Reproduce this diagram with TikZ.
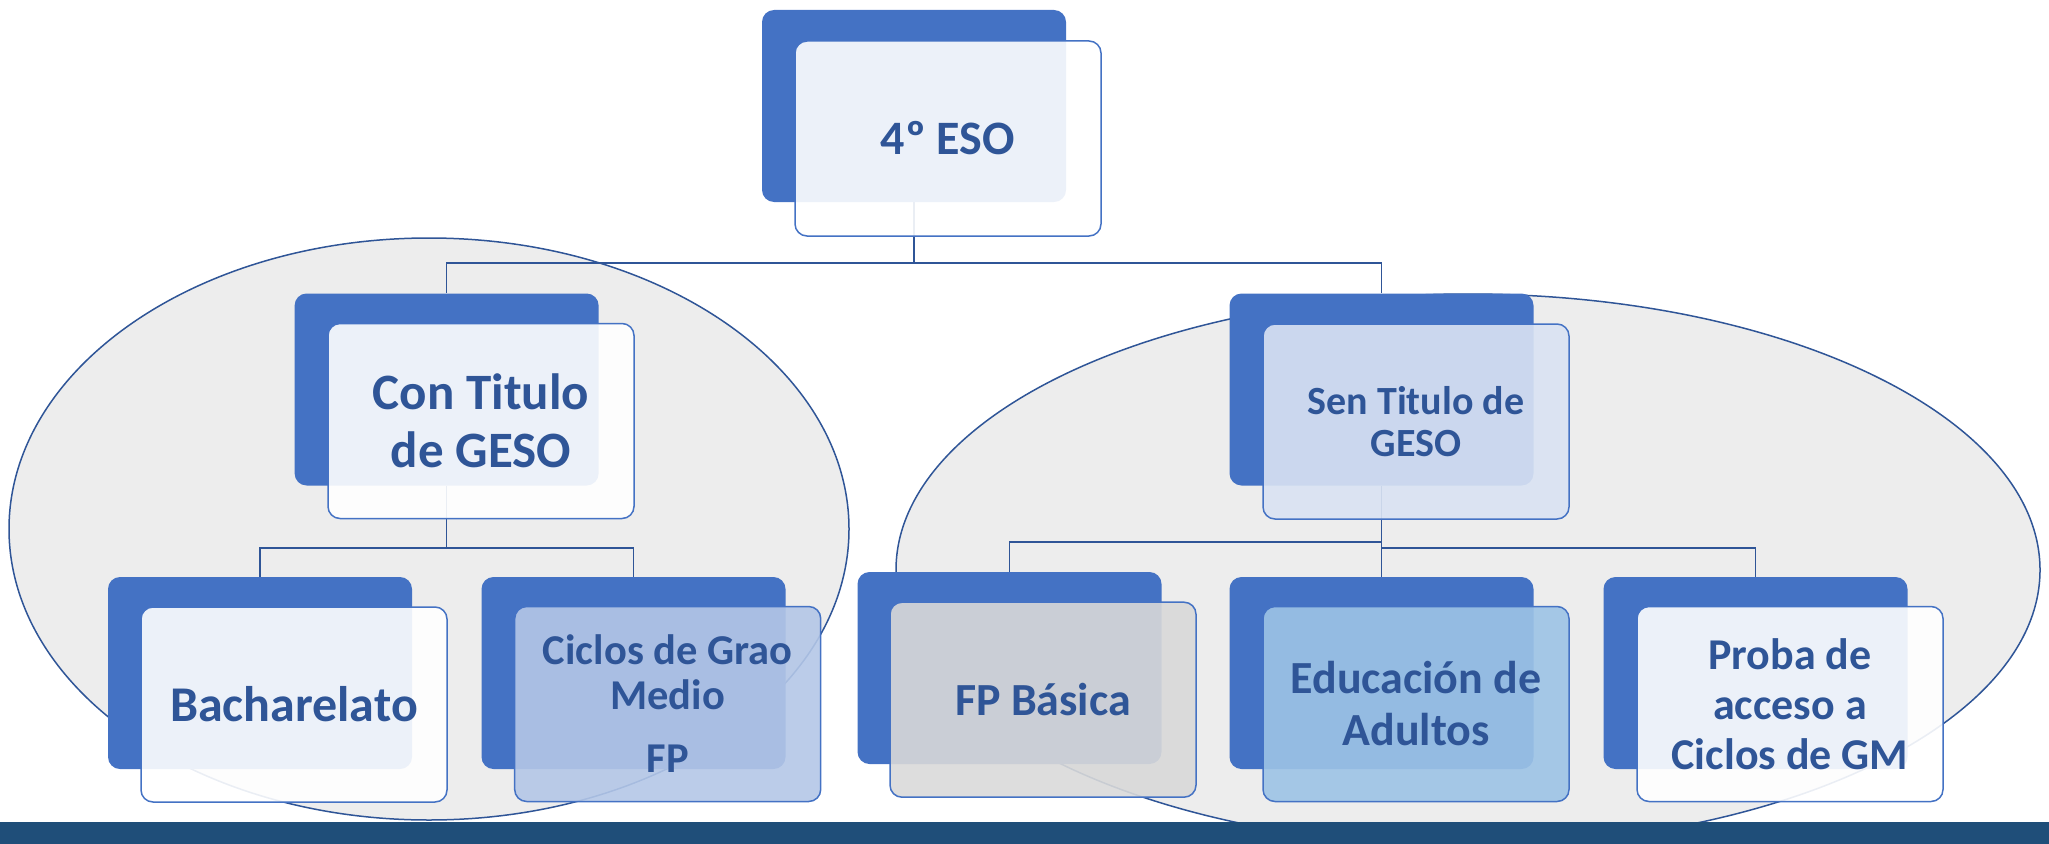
\documentclass[tikz,border=0pt]{standalone}
\usepackage{fontspec}
\setmainfont{Carlito}
\usepackage{tikz}
\usetikzlibrary{backgrounds}

\definecolor{boxblue}{HTML}{4472C4}
\definecolor{txtblue}{HTML}{2F5597}
\definecolor{groupgray}{HTML}{EDEDED}
\definecolor{barblue}{HTML}{1F4E79}
\definecolor{paleblue}{HTML}{DAE3F3}
\definecolor{midblue}{HTML}{B4C7E7}
\definecolor{skyblue}{HTML}{9DC3E6}
\definecolor{greybox}{HTML}{D9D9D9}

\begin{document}
\begin{tikzpicture}[x=1pt,y=-1pt,
    back/.style={shape=rectangle,rounded corners=12pt,fill=boxblue,minimum width=304pt,minimum height=192pt,inner sep=0pt},
    front/.style={shape=rectangle,rounded corners=12pt,draw=boxblue,line width=1.5pt,fill=#1,fill opacity=0.9,text opacity=1,minimum width=306pt,minimum height=195pt,inner sep=0pt,align=center,text=txtblue},
    link/.style={draw=txtblue,line width=1.6pt},
    group/.style={draw=txtblue,line width=1.5pt,fill=groupgray}]
        \useasboundingbox (0,0) rectangle (2049,843);

        % top level
        \node[back] (esoB) at (914,106) {};
        \node[front=white,font=\bfseries\fontsize{48}{54}\selectfont] (esoF) at (948,138.5) {4º ESO};

        % second level
        \node[back] (conB) at (446.6,389.5) {};
        \node[front=white,font=\bfseries\fontsize{51}{58}\selectfont] (conF) at (481,421) {Con Titulo\\de GESO};
        \node[back] (senB) at (1381.5,389.5) {};
        \node[front=paleblue,font=\bfseries\fontsize{40}{42}\selectfont] (senF) at (1416,421.5) {Sen Titulo de\\GESO};

        % third level
        \node[back] (bachB) at (260,673) {};
        \node[front=white,font=\bfseries\fontsize{50}{56}\selectfont] (bachF) at (294,704.5) {Bacharelato};
        \node[back] (cicB) at (633.5,673) {};
        \node[front=midblue,font=\bfseries\fontsize{42.5}{45}\selectfont] (cicF) at (667.7,704) {Ciclos de Grao\\Medio\\[18pt]FP};
        \node[back] (fpbB) at (1009.5,668) {};
        \node[front=greybox,font=\bfseries\fontsize{46}{50}\selectfont] (fpbF) at (1043,699.7) {FP Básica};
        \node[back] (eduB) at (1381.5,673) {};
        \node[front=skyblue,font=\bfseries\fontsize{46}{52}\selectfont] (eduF) at (1416,704) {Educación de\\Adultos};
        \node[back] (probaB) at (1755.5,673) {};
        \node[front=white,font=\bfseries\fontsize{44}{50}\selectfont] (probaF) at (1790,704) {Proba de\\acceso a\\Ciclos de GM};

        \begin{scope}[on background layer]
        % groups
        \draw[group] (429,529) ellipse [x radius=420pt, y radius=291pt];
        \draw[group] (1468,570) ellipse [x radius=572pt, y radius=276pt];

        % links
        \draw[link] (esoB.south) -- ++(0,61) -| (conB.north);
        \draw[link] (esoB.south) -- ++(0,61) -| (senB.north);
        \draw[link] (conB.south) -- ++(0,62) -| (bachB.north);
        \draw[link] (conB.south) -- ++(0,62) -| (cicB.north);
        \draw[link] (senB.south) -- ++(0,56.5) -| (fpbB.north);
        \draw[link] (senB.south) -- (eduB.north);
        \draw[link] (senB.south) -- ++(0,62) -| (probaB.north);
        \end{scope}

        % bottom band
        \fill[barblue] (0,822) rectangle (2049,850);
\end{tikzpicture}
\end{document}
